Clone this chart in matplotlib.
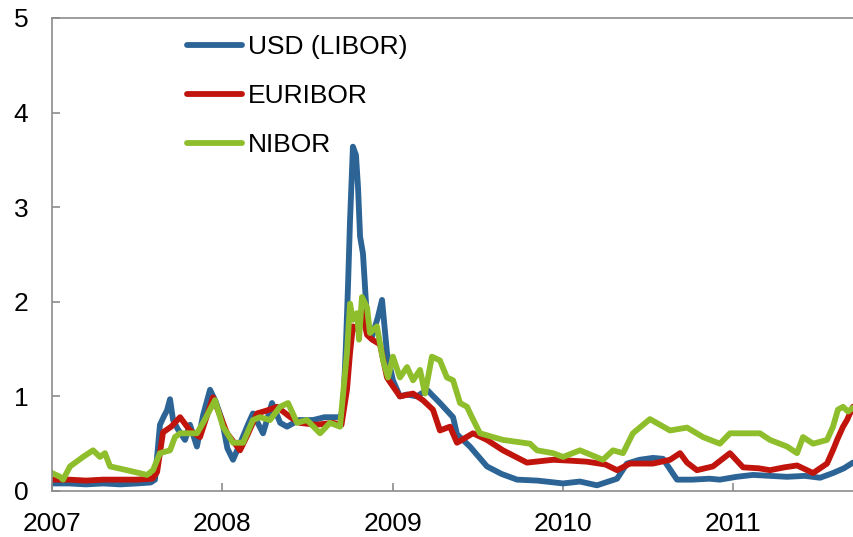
import matplotlib
matplotlib.use("Agg")
import matplotlib.pyplot as plt

plt.rcParams['font.family'] = ['Liberation Sans', 'DejaVu Sans']

# Decimal-year offsets from 2007 and values (percentage points)
usd_t = [0.000, 0.100, 0.200, 0.300, 0.400, 0.500, 0.580, 0.605, 0.634, 0.660, 0.675, 0.693, 0.711,
         0.740, 0.781, 0.810, 0.851, 0.887, 0.928, 0.960, 0.998, 1.030, 1.063, 1.104, 1.150, 1.180, 1.239,
         1.292, 1.340, 1.380, 1.450, 1.533, 1.600, 1.650, 1.691, 1.709, 1.725, 1.738, 1.750, 1.767, 1.785,
         1.797, 1.809, 1.826, 1.850, 1.879, 1.914, 1.938, 1.967, 2.002, 2.043, 2.085, 2.143, 2.202, 2.278,
         2.355, 2.378, 2.454, 2.554, 2.640, 2.731, 2.850, 3.001, 3.100, 3.200, 3.318, 3.376, 3.450, 3.529,
         3.588, 3.640, 3.670, 3.760, 3.860, 3.922, 4.020, 4.116, 4.216, 4.316, 4.420, 4.510, 4.586, 4.650,
         4.703]
usd_v = [0.08, 0.08, 0.07, 0.08, 0.07, 0.08, 0.09, 0.12, 0.70, 0.80, 0.85, 0.97, 0.75,
         0.65, 0.54, 0.70, 0.47, 0.80, 1.07, 0.95, 0.75, 0.45, 0.33, 0.50, 0.70, 0.82, 0.61,
         0.93, 0.72, 0.68, 0.75, 0.75, 0.78, 0.78, 0.78, 0.86, 1.50, 2.16, 2.86, 3.64, 3.55,
         3.21, 2.69, 2.51, 1.81, 1.63, 1.84, 2.02, 1.46, 1.17, 1.00, 1.02, 1.00, 1.07, 0.93,
         0.78, 0.60, 0.47, 0.26, 0.18, 0.12, 0.11, 0.08, 0.10, 0.06, 0.13, 0.29, 0.33, 0.35,
         0.34, 0.20, 0.12, 0.12, 0.13, 0.12, 0.15, 0.17, 0.16, 0.15, 0.16, 0.14, 0.19, 0.24,
         0.30]

eur_t = [0.000, 0.100, 0.200, 0.300, 0.400, 0.500, 0.590, 0.617, 0.652, 0.700, 0.752, 0.810, 0.869,
         0.945, 1.028, 1.104, 1.150, 1.204, 1.260, 1.321, 1.400, 1.456, 1.550, 1.650, 1.700, 1.732,
         1.750, 1.767, 1.800, 1.820, 1.850, 1.880, 1.926, 1.967, 1.985, 2.043, 2.120, 2.178, 2.237,
         2.278, 2.337, 2.378, 2.472, 2.554, 2.648, 2.789, 2.942, 3.050, 3.141, 3.250, 3.318, 3.394,
         3.529, 3.629, 3.688, 3.729, 3.787, 3.881, 3.981, 4.058, 4.150, 4.216, 4.300, 4.375, 4.469,
         4.551, 4.590, 4.610, 4.645, 4.668, 4.703]
eur_v = [0.12, 0.12, 0.11, 0.12, 0.12, 0.12, 0.13, 0.20, 0.62, 0.68, 0.78, 0.64, 0.57,
         0.99, 0.61, 0.43, 0.60, 0.82, 0.85, 0.89, 0.78, 0.72, 0.70, 0.72, 0.70, 1.07,
         1.46, 1.74, 1.70, 1.90, 1.65, 1.60, 1.55, 1.20, 1.15, 1.00, 1.03, 0.96, 0.86,
         0.64, 0.68, 0.51, 0.61, 0.54, 0.43, 0.30, 0.33, 0.32, 0.31, 0.28, 0.22, 0.29,
         0.29, 0.33, 0.40, 0.30, 0.22, 0.26, 0.40, 0.25, 0.24, 0.22, 0.25, 0.27, 0.19,
         0.29, 0.45, 0.54, 0.68, 0.75, 0.89]

nib_t = [0.000, 0.047, 0.065, 0.106, 0.182, 0.241, 0.282, 0.311, 0.341, 0.440, 0.558, 0.593, 0.634,
         0.693, 0.722, 0.752, 0.793, 0.851, 0.887, 0.957, 1.004, 1.063, 1.122, 1.180, 1.221, 1.280,
         1.339, 1.386, 1.439, 1.497, 1.574, 1.632, 1.691, 1.732, 1.750, 1.767, 1.791, 1.803, 1.820,
         1.850, 1.867, 1.908, 1.944, 1.973, 2.002, 2.043, 2.085, 2.120, 2.161, 2.190, 2.231, 2.278,
         2.319, 2.355, 2.396, 2.437, 2.466, 2.513, 2.648, 2.807, 2.848, 2.942, 3.001, 3.100, 3.235,
         3.294, 3.353, 3.411, 3.511, 3.629, 3.729, 3.823, 3.922, 3.981, 4.099, 4.157, 4.216, 4.316,
         4.375, 4.410, 4.469, 4.551, 4.586, 4.615, 4.645, 4.674, 4.703]
nib_v = [0.19, 0.15, 0.12, 0.26, 0.36, 0.43, 0.36, 0.40, 0.26, 0.22, 0.17, 0.22, 0.40,
         0.43, 0.57, 0.61, 0.61, 0.61, 0.72, 0.96, 0.68, 0.51, 0.51, 0.75, 0.78, 0.75,
         0.89, 0.93, 0.72, 0.75, 0.61, 0.72, 0.68, 1.46, 1.98, 1.81, 1.88, 1.60, 2.05,
         1.94, 1.67, 1.74, 1.38, 1.20, 1.42, 1.20, 1.31, 1.17, 1.28, 1.03, 1.42, 1.38,
         1.20, 1.17, 0.93, 0.89, 0.78, 0.61, 0.54, 0.50, 0.43, 0.40, 0.36, 0.43, 0.33,
         0.43, 0.40, 0.61, 0.76, 0.64, 0.67, 0.57, 0.50, 0.61, 0.61, 0.61, 0.54, 0.47,
         0.40, 0.57, 0.50, 0.54, 0.68, 0.86, 0.89, 0.84, 0.88]

year0 = 2007
series = [("USD (LIBOR)", usd_t, usd_v, "#2C6496"),
          ("EURIBOR", eur_t, eur_v, "#C0140C"),
          ("NIBOR", nib_t, nib_v, "#8FBE2C")]

xticks = [2007, 2008, 2009, 2010, 2011]
yticks = [0, 1, 2, 3, 4, 5]

fig = plt.figure(figsize=(8.54, 5.37), dpi=100)
ax = fig.add_axes([52/854, 46/537, 802/854, 473/537])

for name, t, v, c in series:
    ax.plot([year0 + x for x in t], v, color=c, lw=4.2, label=name,
            solid_capstyle='round', solid_joinstyle='round')

ax.set_xlim(2007, 2007 + 802/170.3)
ax.set_ylim(0, 5)
ax.set_xticks(xticks)
ax.set_xticklabels([str(x) for x in xticks])
ax.set_yticks(yticks)
ax.set_yticklabels([str(y) for y in yticks])

for s in ['left', 'top', 'bottom']:
    ax.spines[s].set_color('#8C8C8C')
    ax.spines[s].set_linewidth(1.2)
ax.spines['right'].set_visible(False)
ax.tick_params(axis='both', direction='in', color='#8C8C8C', width=1.2, length=6,
               labelsize=19, labelcolor='black')
ax.tick_params(axis='x', pad=15)
ax.tick_params(axis='y', pad=17)
ax.tick_params(axis='x', top=False)

leg = ax.legend(loc='upper left', bbox_to_anchor=(187/854, 1 - 35/537),
                bbox_transform=fig.transFigure, frameon=False, fontsize=19,
                handlelength=2.1, handletextpad=0.2, labelspacing=0.95,
                borderpad=0, borderaxespad=0)
for line in leg.get_lines():
    line.set_linewidth(4.2)
    line.set_solid_capstyle('round')

fig.savefig("out.png", dpi=100)
